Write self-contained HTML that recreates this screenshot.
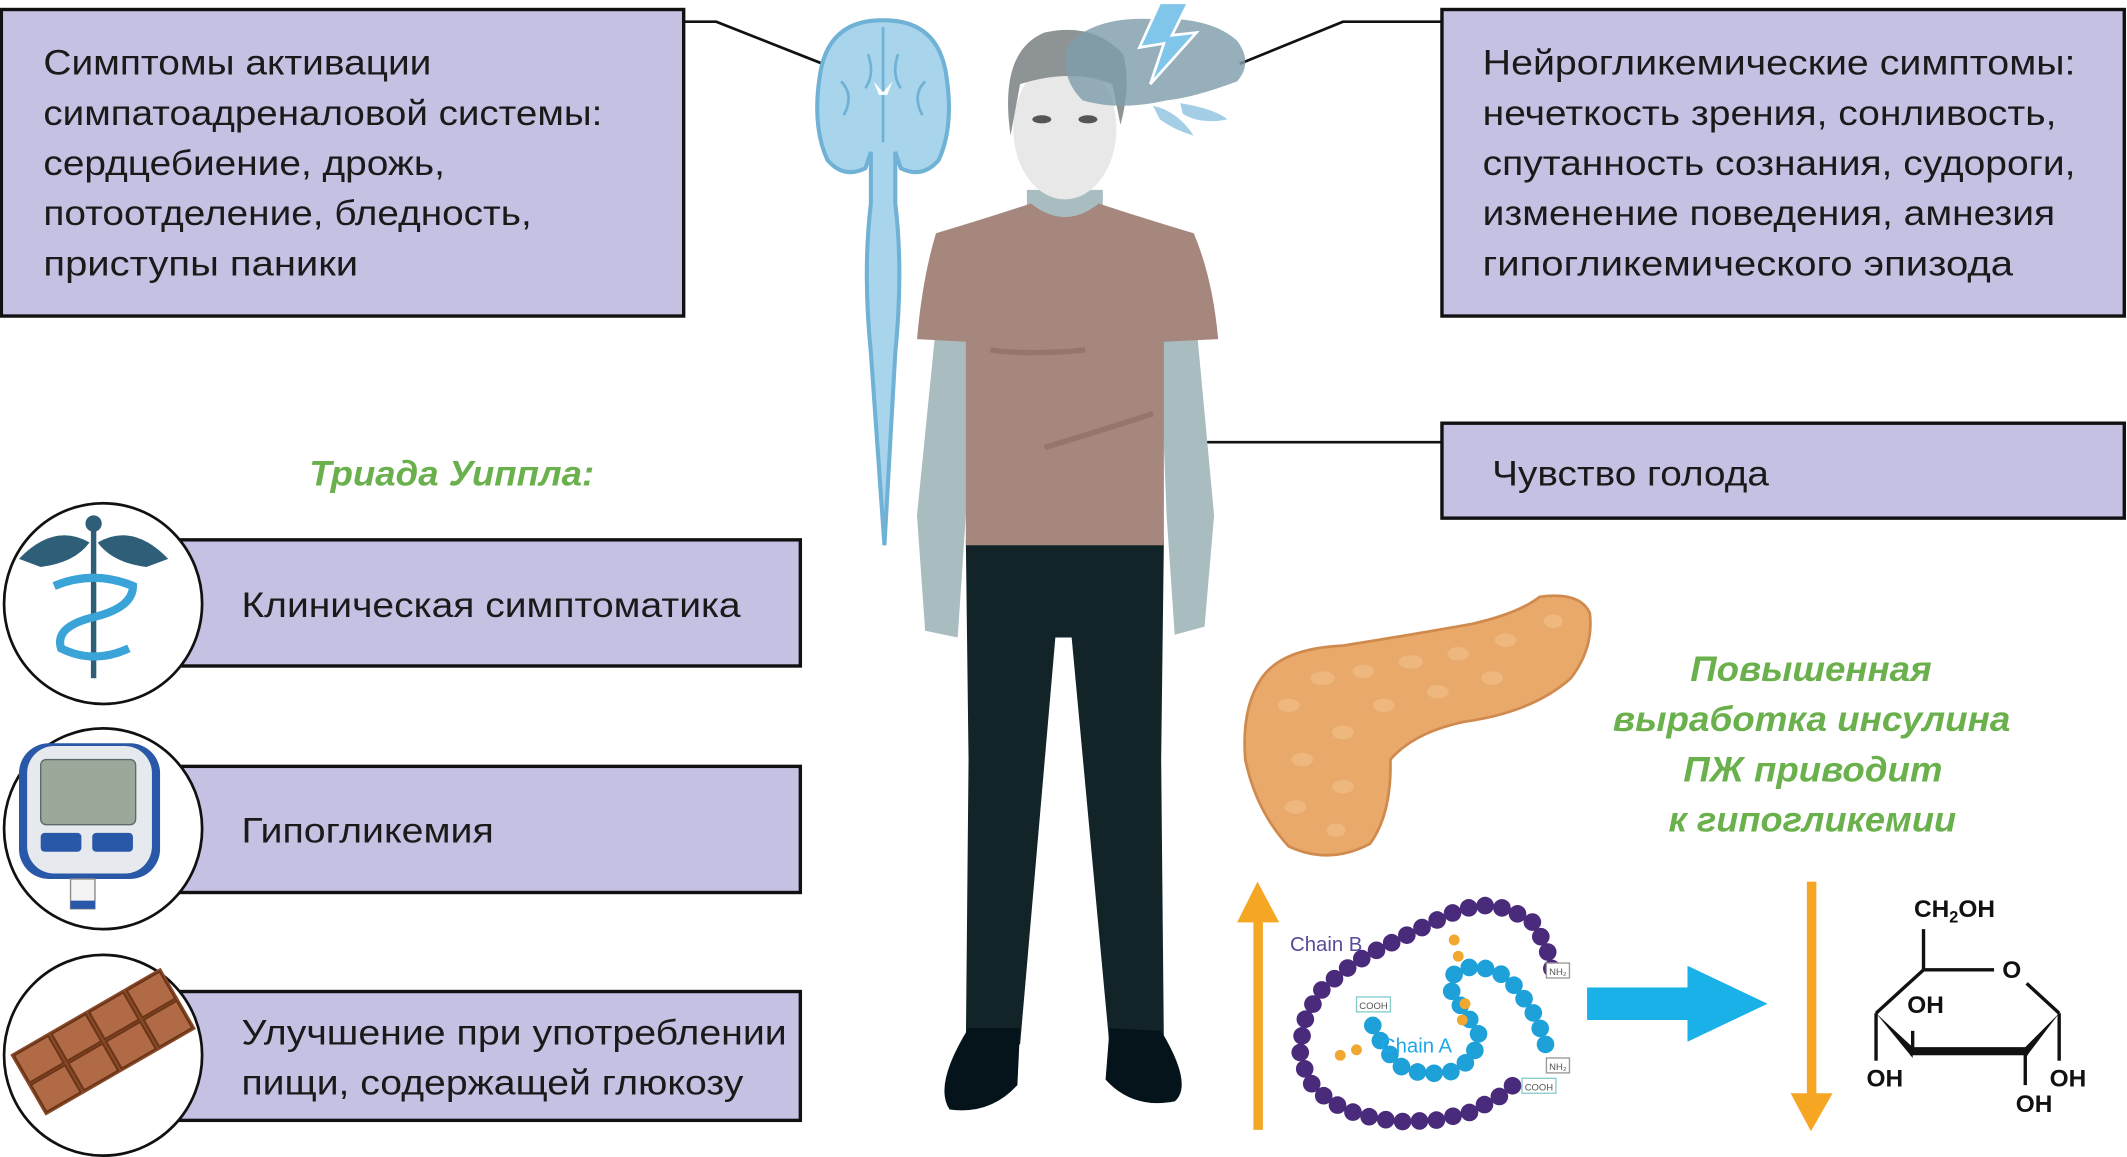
<!DOCTYPE html>
<html><head><meta charset="utf-8">
<style>
html,body{margin:0;padding:0;background:#fff;}
svg{display:block;}
text{font-family:"Liberation Sans",sans-serif;}
.t{font-size:26px;fill:#1a1a1a;}
.g{font-size:26px;fill:#6ab04c;font-weight:bold;font-style:italic;}
.box{fill:#c5c1e3;stroke:#111;stroke-width:2.5;}
.ln{fill:none;stroke:#111;stroke-width:2;}
</style></head><body>
<svg width="2127" height="1157" viewBox="0 0 1568 853" preserveAspectRatio="none" xmlns="http://www.w3.org/2000/svg">
<rect width="1568" height="853" fill="#fff"/>

<!-- connectors -->
<polyline class="ln" points="504,16 528,16 614,50"/>
<polyline class="ln" points="1063,16 990,16 914,47"/>
<polyline class="ln" points="1063,326 882,326 793,266"/>

<!-- Box 1 -->
<rect class="box" x="1" y="7" width="503" height="226"/>
<text class="t" x="32" y="55" textLength="286" lengthAdjust="spacingAndGlyphs">Симптомы активации</text>
<text class="t" x="32" y="92" textLength="412" lengthAdjust="spacingAndGlyphs">симпатоадреналовой системы:</text>
<text class="t" x="32" y="129" textLength="296" lengthAdjust="spacingAndGlyphs">сердцебиение, дрожь,</text>
<text class="t" x="32" y="166" textLength="360" lengthAdjust="spacingAndGlyphs">потоотделение, бледность,</text>
<text class="t" x="32" y="203" textLength="232" lengthAdjust="spacingAndGlyphs">приступы паники</text>

<!-- Box 2 -->
<rect class="box" x="1063" y="7" width="503" height="226"/>
<text class="t" x="1093" y="55" textLength="437" lengthAdjust="spacingAndGlyphs">Нейрогликемические симптомы:</text>
<text class="t" x="1093" y="92" textLength="423" lengthAdjust="spacingAndGlyphs">нечеткость зрения, сонливость,</text>
<text class="t" x="1093" y="129" textLength="437" lengthAdjust="spacingAndGlyphs">спутанность сознания, судороги,</text>
<text class="t" x="1093" y="166" textLength="422" lengthAdjust="spacingAndGlyphs">изменение поведения, амнезия</text>
<text class="t" x="1093" y="203" textLength="391" lengthAdjust="spacingAndGlyphs">гипогликемического эпизода</text>

<!-- Box 3 -->
<rect class="box" x="1063" y="312" width="503" height="70"/>
<text class="t" x="1100" y="358" textLength="204" lengthAdjust="spacingAndGlyphs">Чувство голода</text>

<!-- Triad -->
<text class="g" x="228" y="358" textLength="210" lengthAdjust="spacingAndGlyphs">Триада Уиппла:</text>
<rect class="box" x="128" y="398" width="462" height="93"/>
<rect class="box" x="128" y="565" width="462" height="93"/>
<rect class="box" x="128" y="731" width="462" height="95"/>
<text class="t" x="178" y="455" textLength="368" lengthAdjust="spacingAndGlyphs">Клиническая симптоматика</text>
<text class="t" x="178" y="621" textLength="186" lengthAdjust="spacingAndGlyphs">Гипогликемия</text>
<text class="t" x="178" y="770" textLength="402" lengthAdjust="spacingAndGlyphs">Улучшение при употреблении</text>
<text class="t" x="178" y="807" textLength="370" lengthAdjust="spacingAndGlyphs">пищи, содержащей глюкозу</text>

<!-- circles -->
<g stroke="#111" stroke-width="2" fill="#fff">
<ellipse cx="76" cy="445" rx="73" ry="74"/>
<ellipse cx="76" cy="611" rx="73" ry="74"/>
<ellipse cx="76" cy="778" rx="73" ry="74"/>
</g>
<!-- caduceus -->
<g>
<circle cx="69" cy="386" r="6" fill="#2f5f78"/>
<path d="M14,412 Q40,385 66,400 Q55,415 30,418 Z" fill="#2f5f78"/>
<path d="M124,412 Q98,385 72,400 Q83,415 108,418 Z" fill="#2f5f78"/>
<rect x="67" y="390" width="4" height="110" fill="#2f5f78"/>
<path d="M40,432 Q69,420 98,432 Q98,448 69,455 Q40,462 45,478 Q69,490 95,478" fill="none" stroke="#3aa3d8" stroke-width="6"/>
<path d="M98,432 Q69,420 40,432" fill="none" stroke="#3aa3d8" stroke-width="6"/>
</g>
<!-- glucometer -->
<g>
<rect x="14" y="548" width="104" height="100" rx="22" fill="#2a58a8"/>
<rect x="20" y="550" width="92" height="94" rx="20" fill="#e6eaee"/>
<rect x="30" y="560" width="70" height="48" rx="4" fill="#9aa99a" stroke="#5d6a6a"/>
<rect x="30" y="614" width="30" height="14" rx="3" fill="#2a58a8"/>
<rect x="68" y="614" width="30" height="14" rx="3" fill="#2a58a8"/>
<rect x="52" y="648" width="18" height="22" fill="#f4f4f4" stroke="#888"/>
<rect x="52" y="664" width="18" height="6" fill="#2a58a8"/>
</g>
<!-- chocolate -->
<g transform="translate(76,768) rotate(-30)">
<rect x="-64" y="-26" width="128" height="52" fill="#8a4a2a"/>
<g fill="#b06a45" stroke="#6b3518" stroke-width="1.5">
<rect x="-62" y="-24" width="29" height="23"/><rect x="-30" y="-24" width="29" height="23"/><rect x="2" y="-24" width="29" height="23"/><rect x="34" y="-24" width="28" height="23"/>
<rect x="-62" y="1" width="29" height="23"/><rect x="-30" y="1" width="29" height="23"/><rect x="2" y="1" width="29" height="23"/><rect x="34" y="1" width="28" height="23"/>
</g>
</g>

<!-- brain + spinal cord -->
<g>
<path d="M648,15 Q612,16 605,52 Q598,92 610,118 Q622,132 638,124 L642,112 L642,150 Q636,200 642,260 L652,402 L660,260 Q666,200 660,150 L660,112 L664,124 Q680,132 692,118 Q704,92 697,52 Q690,16 654,15 Z" fill="#a8d4ec" stroke="#6fb2d6" stroke-width="3"/>
<line x1="651" y1="20" x2="651" y2="105" stroke="#6fb2d6" stroke-width="2"/>
<path d="M620,60 Q630,70 622,85 M682,60 Q672,70 680,85 M640,40 Q645,55 638,65 M662,40 Q657,55 664,65" stroke="#6fb2d6" stroke-width="2" fill="none"/>
<path d="M644,60 L651,68 L658,60 L654,70 L648,70 Z" fill="#fff"/>
</g>

<!-- person -->
<g>
<path d="M690,240 L676,380 L682,465 L706,470 L712,380 L718,250 Z" fill="#a9bcc0"/>
<path d="M882,240 L895,380 L888,462 L866,468 L860,380 L855,250 Z" fill="#a9bcc0"/>
<path d="M712,398 L858,398 L856,560 L858,770 L818,772 L790,470 L778,470 L752,770 L712,772 L714,560 Z" fill="#132428"/>
<path d="M714,758 L752,758 L750,800 Q730,822 700,818 Q688,800 714,758 Z" fill="#05141a"/>
<path d="M818,758 L856,760 Q880,800 866,812 Q835,818 815,796 Z" fill="#05141a"/>
<rect x="757" y="140" width="56" height="40" fill="#a9bcc0"/>
<path d="M690,172 Q730,160 760,150 Q785,170 810,150 Q840,160 880,172 Q894,205 898,250 L858,252 L858,402 L712,402 L712,252 L676,250 Q680,205 690,172 Z" fill="#a5877d"/>
<path d="M730,258 Q760,262 800,258 M770,330 Q810,318 850,305" stroke="#94766c" stroke-width="4" fill="none"/>
<ellipse cx="785" cy="95" rx="38" ry="52" fill="#e8e8e8"/>
<path d="M745,100 Q736,38 770,24 Q806,16 828,40 Q834,62 826,92 L820,62 Q790,50 752,62 Z" fill="#8e9496"/>
<ellipse cx="768" cy="88" rx="7" ry="3" fill="#555"/>
<ellipse cx="802" cy="88" rx="7" ry="3" fill="#555"/>
</g>
<!-- side brain with lightning -->
<g opacity="0.82">
<path d="M788,32 Q808,12 850,14 Q892,12 912,30 Q924,46 912,60 Q880,72 860,74 Q825,82 798,74 Q780,56 788,32 Z" fill="#7f9eab"/>
<path d="M850,78 Q868,82 880,100 Q866,96 855,88 Z" fill="#8fc4e0"/>
<path d="M870,76 Q895,80 905,88 Q885,92 872,84 Z" fill="#8fc4e0"/>
</g>
<path d="M855,2 L840,35 L858,32 L848,62 L882,24 L864,26 L876,2 Z" fill="#7fc6ea" stroke="#fff" stroke-width="2"/>

<!-- pancreas -->
<path d="M930,500 Q945,478 990,476 Q1040,468 1085,460 Q1120,452 1135,440 Q1165,436 1172,452 Q1175,478 1158,500 Q1130,525 1080,532 Q1042,540 1025,560 Q1026,600 1010,622 Q980,638 950,624 Q926,598 918,560 Q915,522 930,500 Z" fill="#e8a96b" stroke="#d08a4e" stroke-width="2"/>
<g fill="#f0bb83" opacity="0.8">
<ellipse cx="950" cy="520" rx="8" ry="5"/><ellipse cx="975" cy="500" rx="9" ry="5"/><ellipse cx="1005" cy="495" rx="8" ry="5"/><ellipse cx="1040" cy="488" rx="9" ry="5"/><ellipse cx="1075" cy="482" rx="8" ry="5"/><ellipse cx="1110" cy="472" rx="8" ry="5"/><ellipse cx="1145" cy="458" rx="7" ry="5"/><ellipse cx="960" cy="560" rx="8" ry="5"/><ellipse cx="990" cy="540" rx="8" ry="5"/><ellipse cx="1020" cy="520" rx="8" ry="5"/><ellipse cx="1060" cy="510" rx="8" ry="5"/><ellipse cx="1100" cy="500" rx="8" ry="5"/><ellipse cx="955" cy="595" rx="8" ry="5"/><ellipse cx="990" cy="580" rx="8" ry="5"/><ellipse cx="985" cy="612" rx="7" ry="5"/>
</g>

<text class="g" x="1246" y="502" textLength="178" lengthAdjust="spacingAndGlyphs">Повышенная</text>
<text class="g" x="1189" y="539" textLength="293" lengthAdjust="spacingAndGlyphs">выработка инсулина</text>
<text class="g" x="1241" y="576" textLength="191" lengthAdjust="spacingAndGlyphs">ПЖ приводит</text>
<text class="g" x="1230" y="613" textLength="212" lengthAdjust="spacingAndGlyphs">к гипогликемии</text>

<!-- orange arrows -->
<rect x="924" y="678" width="7" height="155" fill="#f5a623"/>
<polygon points="912,680 943,680 927,650" fill="#f5a623"/>
<rect x="1332" y="650" width="7" height="160" fill="#f5a623"/>
<polygon points="1320,806 1351,806 1335,834" fill="#f5a623"/>

<!-- insulin -->
<text x="951" y="701" font-size="15" fill="#5a4a9a">Chain B</text>
<polyline points="1144,714 1140,698 1130,680 1112,670 1090,667 1068,674 1048,684 1028,694 1008,704 990,716 972,732 962,752 958,774 964,796 980,812 1002,822 1030,827 1058,826 1084,820 1106,808 1118,798" fill="none" stroke="#4a2a7a" stroke-width="13" stroke-linecap="round" stroke-dasharray="0 12.5"/>
<polyline points="1012,756 1020,772 1032,786 1050,792 1070,790 1086,780 1090,762 1080,746 1070,732 1072,718 1086,712 1104,716 1118,728 1130,746 1138,764 1142,782" fill="none" stroke="#1ea0d8" stroke-width="13" stroke-linecap="round" stroke-dasharray="0 12.5"/>
<text x="1018" y="776" font-size="15" fill="#1ea8e8">Chain A</text>
<rect x="1000" y="735" width="25" height="11" fill="#fff" stroke="#8cc" stroke-width="1"/>
<text x="1002" y="744" font-size="7" fill="#555">COOH</text>
<rect x="1140" y="710" width="17" height="11" fill="#fff" stroke="#999"/>
<text x="1142" y="719" font-size="7" fill="#555">NH₂</text>
<rect x="1140" y="780" width="17" height="11" fill="#fff" stroke="#999"/>
<text x="1142" y="789" font-size="7" fill="#555">NH₂</text>
<rect x="1122" y="795" width="25" height="11" fill="#fff" stroke="#8cc"/>
<text x="1124" y="804" font-size="7" fill="#555">COOH</text>
<g fill="#f0a830"><circle cx="1072" cy="693" r="4"/><circle cx="1075" cy="705" r="4"/><circle cx="1080" cy="740" r="4"/><circle cx="1078" cy="752" r="4"/><circle cx="988" cy="778" r="4"/><circle cx="1000" cy="774" r="4"/></g>

<!-- blue arrow -->
<rect x="1170" y="728" width="76" height="24" fill="#1ab0e8"/>
<polygon points="1244,712 1303,740 1244,768" fill="#1ab0e8"/>

<!-- glucose -->
<g stroke="#111" stroke-width="2.5" fill="none">
<line x1="1418" y1="685" x2="1418" y2="715"/>
<line x1="1418" y1="715" x2="1470" y2="715"/>
<line x1="1494" y1="725" x2="1518" y2="747"/>
<line x1="1418" y1="715" x2="1383" y2="747"/>
<line x1="1383" y1="747" x2="1383" y2="782"/>
<line x1="1518" y1="747" x2="1518" y2="782"/>
<line x1="1493" y1="776" x2="1493" y2="800"/>
<line x1="1410" y1="760" x2="1410" y2="776"/>
</g>
<polygon points="1383,747 1410,772 1410,780" fill="#111"/>
<polygon points="1518,747 1493,772 1493,780" fill="#111"/>
<rect x="1408" y="772" width="87" height="6" fill="#111"/>
<g font-size="18" font-weight="bold" fill="#111">
<text x="1411" y="676">CH<tspan font-size="12" dy="4">2</tspan><tspan dy="-4">OH</tspan></text>
<text x="1476" y="721">O</text>
<text x="1406" y="747">OH</text>
<text x="1376" y="801">OH</text>
<text x="1511" y="801">OH</text>
<text x="1486" y="820">OH</text>
</g>
</svg>
</body></html>
